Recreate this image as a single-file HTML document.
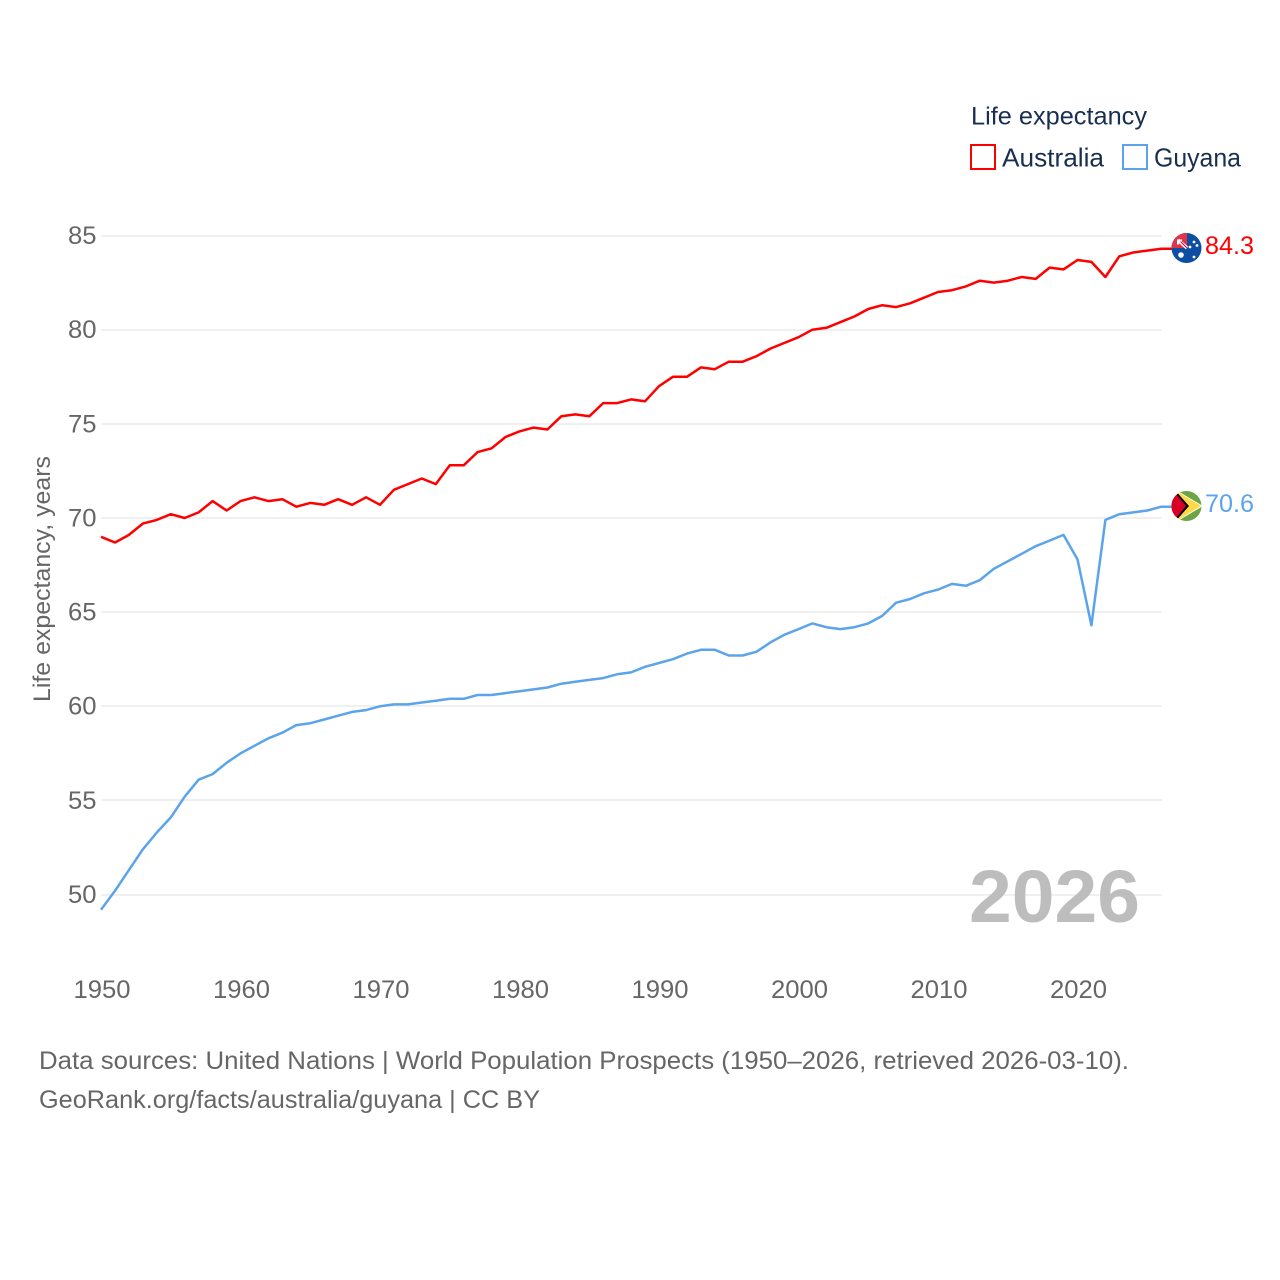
<!DOCTYPE html>
<html lang="en">
<head>
<meta charset="utf-8">
<title>Life expectancy: Australia and Guyana</title>
<style>
html,body{margin:0;padding:0;background:#fff;width:1280px;height:1280px;overflow:hidden}
svg{display:block;font-family:"Liberation Sans",sans-serif}
</style>
</head>
<body>
<svg id="chart" width="1280" height="1280" viewBox="0 0 1280 1280" xmlns="http://www.w3.org/2000/svg">
  <defs>
    <clipPath id="clip-au"><circle cx="1186.5" cy="248" r="15"/></clipPath>
    <clipPath id="clip-gy"><circle cx="1186.5" cy="506" r="15"/></clipPath>
  </defs>
  <rect width="1280" height="1280" fill="#fff"/>
  <g id="grid"></g>
  <g id="yticks"></g>
  <g id="xticks"></g>
  <text transform="translate(50,702) rotate(-90)" font-size="24" fill="#666" textLength="246" lengthAdjust="spacingAndGlyphs">Life expectancy, years</text>
  <text x="969" y="922" font-size="74" font-weight="700" fill="#bdbdbd" textLength="171" lengthAdjust="spacingAndGlyphs">2026</text>
  <g id="series"></g>

  <g>
    <text x="971" y="124.5" font-size="25" fill="#1a2e4f" textLength="176" lengthAdjust="spacingAndGlyphs">Life expectancy</text>
    <rect x="971" y="145" width="24" height="24" fill="none" stroke="#ff0000" stroke-width="2"/>
    <text x="1002" y="166.5" font-size="26" fill="#1a2e4f" textLength="102" lengthAdjust="spacingAndGlyphs">Australia</text>
    <rect x="1123" y="145" width="24" height="24" fill="none" stroke="#5ba4ec" stroke-width="2"/>
    <text x="1154" y="166.5" font-size="26" fill="#1a2e4f" textLength="87" lengthAdjust="spacingAndGlyphs">Guyana</text>
  </g>

  <g clip-path="url(#clip-au)">
    <rect x="1171" y="232" width="32" height="32" fill="#0b4ea2"/>
    <rect x="1171" y="232" width="16" height="16" fill="#e0344a"/>
    <path d="M1178 240 L1187 248" stroke="#fff" stroke-width="3.5"/>
    <path d="M1179 240 L1187 248" stroke="#d80027" stroke-width="1"/>
    <rect x="1177" y="239.5" width="5" height="2" fill="#fff"/>
    <rect x="1177" y="239.5" width="2" height="5" fill="#fff"/>
    <circle cx="1181" cy="255" r="2.8" fill="#fff"/>
    <circle cx="1194" cy="242" r="1.4" fill="#fff"/>
    <circle cx="1197" cy="245.5" r="1.4" fill="#fff"/>
    <circle cx="1190" cy="247" r="1.4" fill="#fff"/>
    <circle cx="1194" cy="257" r="1.4" fill="#fff"/>
  </g>
  <g clip-path="url(#clip-gy)">
    <rect x="1171" y="490" width="31" height="32" fill="#6da544"/>
    <path d="M1176 490 L1203 506 L1176 522 L1170 522 L1170 490 Z" fill="#fff"/>
    <path d="M1178 492 L1201 506 L1178 520 L1170 520 L1170 492 Z" fill="#ffda44"/>
    <path d="M1174 489 L1189 506 L1174 523 L1170 523 L1170 489 Z" fill="#000"/>
    <path d="M1172 489 L1186 506 L1172 523 L1168 523 L1168 489 Z" fill="#d80027"/>
  </g>

  <text x="1205" y="254" font-size="25" fill="#ff0000" textLength="49" lengthAdjust="spacingAndGlyphs">84.3</text>
  <text x="1205" y="512" font-size="25" fill="#5ba4ec" textLength="49" lengthAdjust="spacingAndGlyphs">70.6</text>

  <text x="39" y="1069" font-size="25" fill="#666" textLength="1090" lengthAdjust="spacingAndGlyphs">Data sources: United Nations | World Population Prospects (1950–2026, retrieved 2026-03-10).</text>
  <text x="39" y="1108" font-size="25" fill="#666" textLength="501" lengthAdjust="spacingAndGlyphs">GeoRank.org/facts/australia/guyana | CC BY</text>
</svg>
<script>
const firstYear = 1950;
const yTickValues = [50, 55, 60, 65, 70, 75, 80, 85];
const xTickValues = [1950, 1960, 1970, 1980, 1990, 2000, 2010, 2020];
const australiaValues = [69.0,68.7,69.1,69.7,69.9,70.2,70.0,70.3,70.9,70.4,70.9,71.1,70.9,71.0,70.6,70.8,70.7,71.0,70.7,71.1,70.7,71.5,71.8,72.1,71.8,72.8,72.8,73.5,73.7,74.3,74.6,74.8,74.7,75.4,75.5,75.4,76.1,76.1,76.3,76.2,77.0,77.5,77.5,78.0,77.9,78.3,78.3,78.6,79.0,79.3,79.6,80.0,80.1,80.4,80.7,81.1,81.3,81.2,81.4,81.7,82.0,82.1,82.3,82.6,82.5,82.6,82.8,82.7,83.3,83.2,83.7,83.6,82.8,83.9,84.1,84.2,84.3];
const guyanaValues = [49.2,50.2,51.3,52.4,53.3,54.1,55.2,56.1,56.4,57.0,57.5,57.9,58.3,58.6,59.0,59.1,59.3,59.5,59.7,59.8,60.0,60.1,60.1,60.2,60.3,60.4,60.4,60.6,60.6,60.7,60.8,60.9,61.0,61.2,61.3,61.4,61.5,61.7,61.8,62.1,62.3,62.5,62.8,63.0,63.0,62.7,62.7,62.9,63.4,63.8,64.1,64.4,64.2,64.1,64.2,64.4,64.8,65.5,65.7,66.0,66.2,66.5,66.4,66.7,67.3,67.7,68.1,68.5,68.8,69.1,67.8,64.3,69.9,70.2,70.3,70.4,70.6];

const NS = 'http://www.w3.org/2000/svg';
function xScale(year) { return 101 + (year - 1950) * 13.95; }
function yScale(value) { return 894.6 - (value - 50) * 18.83; }

const gridGroup = document.getElementById('grid');
const yTickGroup = document.getElementById('yticks');
const xTickGroup = document.getElementById('xticks');
const seriesGroup = document.getElementById('series');

yTickValues.forEach(function (v) {
  const line = document.createElementNS(NS, 'line');
  
  
  line.setAttribute('x1', 101);
  line.setAttribute('x2', 1162);
  line.setAttribute('y1', Math.round(yScale(v)));
  line.setAttribute('y2', Math.round(yScale(v)));
  line.setAttribute('stroke', '#ececec');
  line.setAttribute('stroke-width', 1.5);
  gridGroup.appendChild(line);

  const label = document.createElementNS(NS, 'text');
  
  
  label.setAttribute('x', 68);
  label.setAttribute('y', yScale(v) + 8.4);
  label.setAttribute('font-size', 25);
  label.setAttribute('fill', '#666');
  label.setAttribute('textLength', 28.5);
  label.setAttribute('lengthAdjust', 'spacingAndGlyphs');
  label.textContent = String(v);
  yTickGroup.appendChild(label);
});

xTickValues.forEach(function (y) {
  const label = document.createElementNS(NS, 'text');
  
  
  label.setAttribute('x', xScale(y) - 27.5);
  label.setAttribute('y', 998);
  label.setAttribute('font-size', 25);
  label.setAttribute('fill', '#666');
  label.setAttribute('textLength', 57);
  label.setAttribute('lengthAdjust', 'spacingAndGlyphs');
  label.textContent = String(y);
  xTickGroup.appendChild(label);
});

function drawSeries(values, color, name) {
  const pts = values.map(function (v, i) {
    return xScale(firstYear + i).toFixed(1) + ',' + yScale(v).toFixed(1);
  });
  const last = values[values.length - 1];
  pts.push('1172,' + yScale(last).toFixed(1));
  const line = document.createElementNS(NS, 'polyline');
  
  
  line.setAttribute('points', pts.join(' '));
  line.setAttribute('fill', 'none');
  line.setAttribute('stroke', color);
  line.setAttribute('stroke-width', 2.5);
  line.setAttribute('stroke-linejoin', 'round');
  seriesGroup.appendChild(line);
}
drawSeries(australiaValues, '#ff0000', 'australia-line');
drawSeries(guyanaValues, '#5ba4ec', 'guyana-line');
</script>
</body>
</html>
